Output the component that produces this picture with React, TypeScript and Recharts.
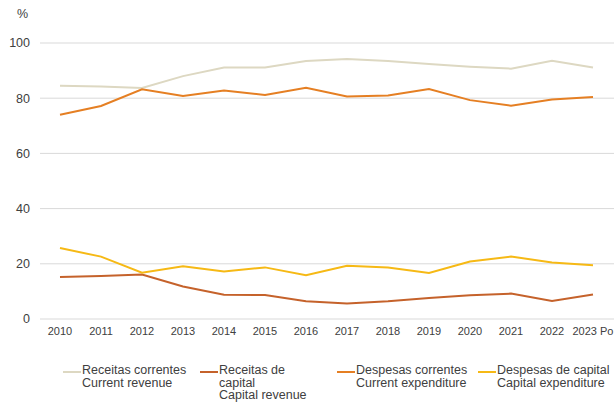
import React from "react";
import { LineChart, Line, XAxis, YAxis, CartesianGrid } from "recharts";

const years = ["2010", "2011", "2012", "2013", "2014", "2015", "2016", "2017", "2018", "2019", "2020", "2021", "2022", "2023 Po"];
const receitasCorrentes = [84.5, 84.2, 83.7, 88.0, 91.1, 91.1, 93.5, 94.2, 93.5, 92.4, 91.4, 90.7, 93.6, 91.1];
const receitasCapital = [15.2, 15.6, 16.1, 11.8, 8.8, 8.7, 6.4, 5.6, 6.4, 7.6, 8.6, 9.2, 6.5, 8.9];
const despesasCorrentes = [74.0, 77.2, 83.2, 80.8, 82.8, 81.2, 83.8, 80.6, 81.0, 83.3, 79.3, 77.3, 79.5, 80.4];
const despesasCapital = [25.7, 22.6, 16.8, 19.1, 17.2, 18.7, 15.9, 19.3, 18.7, 16.7, 20.8, 22.6, 20.5, 19.5];
const yTicks = [0, 20, 40, 60, 80, 100];

const seriesKeys = ["rc", "rk", "dc", "dk"];
const seriesColors = ["#ddd8c2", "#c5622b", "#e57f23", "#f6b915"];
const seriesLabels = [
  ["Receitas correntes", "Current revenue"],
  ["Receitas de", "capital", "Capital revenue"],
  ["Despesas correntes", "Current expenditure"],
  ["Despesas de capital", "Capital expenditure"],
];
const legendX = [63, 200, 337, 478];

const data = years.map((y, i) => ({
  year: y,
  rc: receitasCorrentes[i],
  rk: receitasCapital[i],
  dc: despesasCorrentes[i],
  dk: despesasCapital[i],
}));

const font = "'Liberation Sans', Arial, sans-serif";
const textColor = "#404040";

export default function App() {
  return (
    <div style={{ position: "absolute", left: 0, top: 0, width: 614, height: 404, fontFamily: font, background: "#fff" }}>
      <LineChart width={614} height={404} data={data} margin={{ top: 43, right: 0, left: 0, bottom: 55 }}>
        <CartesianGrid vertical={false} stroke="#d9d9d9" strokeWidth={1} />
        <XAxis
          dataKey="year"
          height={30}
          interval={0}
          axisLine={false}
          tickLine={false}
          padding={{ left: 20, right: 21 }}
          tick={{ fontSize: 11, fill: textColor, fontFamily: font }}
        />
        <YAxis
          width={40}
          domain={[0, 100]}
          ticks={yTicks}
          axisLine={false}
          tickLine={false}
          tickMargin={4}
          tick={{ fontSize: 12.5, fill: textColor, fontFamily: font }}
        />
        {seriesKeys.map((k, i) => (
          <Line
            key={k}
            type="linear"
            dataKey={k}
            stroke={seriesColors[i]}
            strokeWidth={2}
            dot={false}
            isAnimationActive={false}
          />
        ))}
      </LineChart>
      <div style={{ position: "absolute", left: 17, top: 7, fontSize: 12.5, color: textColor }}>%</div>
      {seriesKeys.map((k, i) => (
        <div key={k} style={{ position: "absolute", left: legendX[i], top: 364, display: "flex", alignItems: "flex-start" }}>
          <div style={{ width: 18, height: 2, background: seriesColors[i], marginTop: 7 }} />
          <div style={{ marginLeft: 1, fontSize: 12.5, lineHeight: "12.5px", color: textColor, whiteSpace: "nowrap" }}>
            {seriesLabels[i].map((t, j) => (
              <div key={j}>{t}</div>
            ))}
          </div>
        </div>
      ))}
    </div>
  );
}
